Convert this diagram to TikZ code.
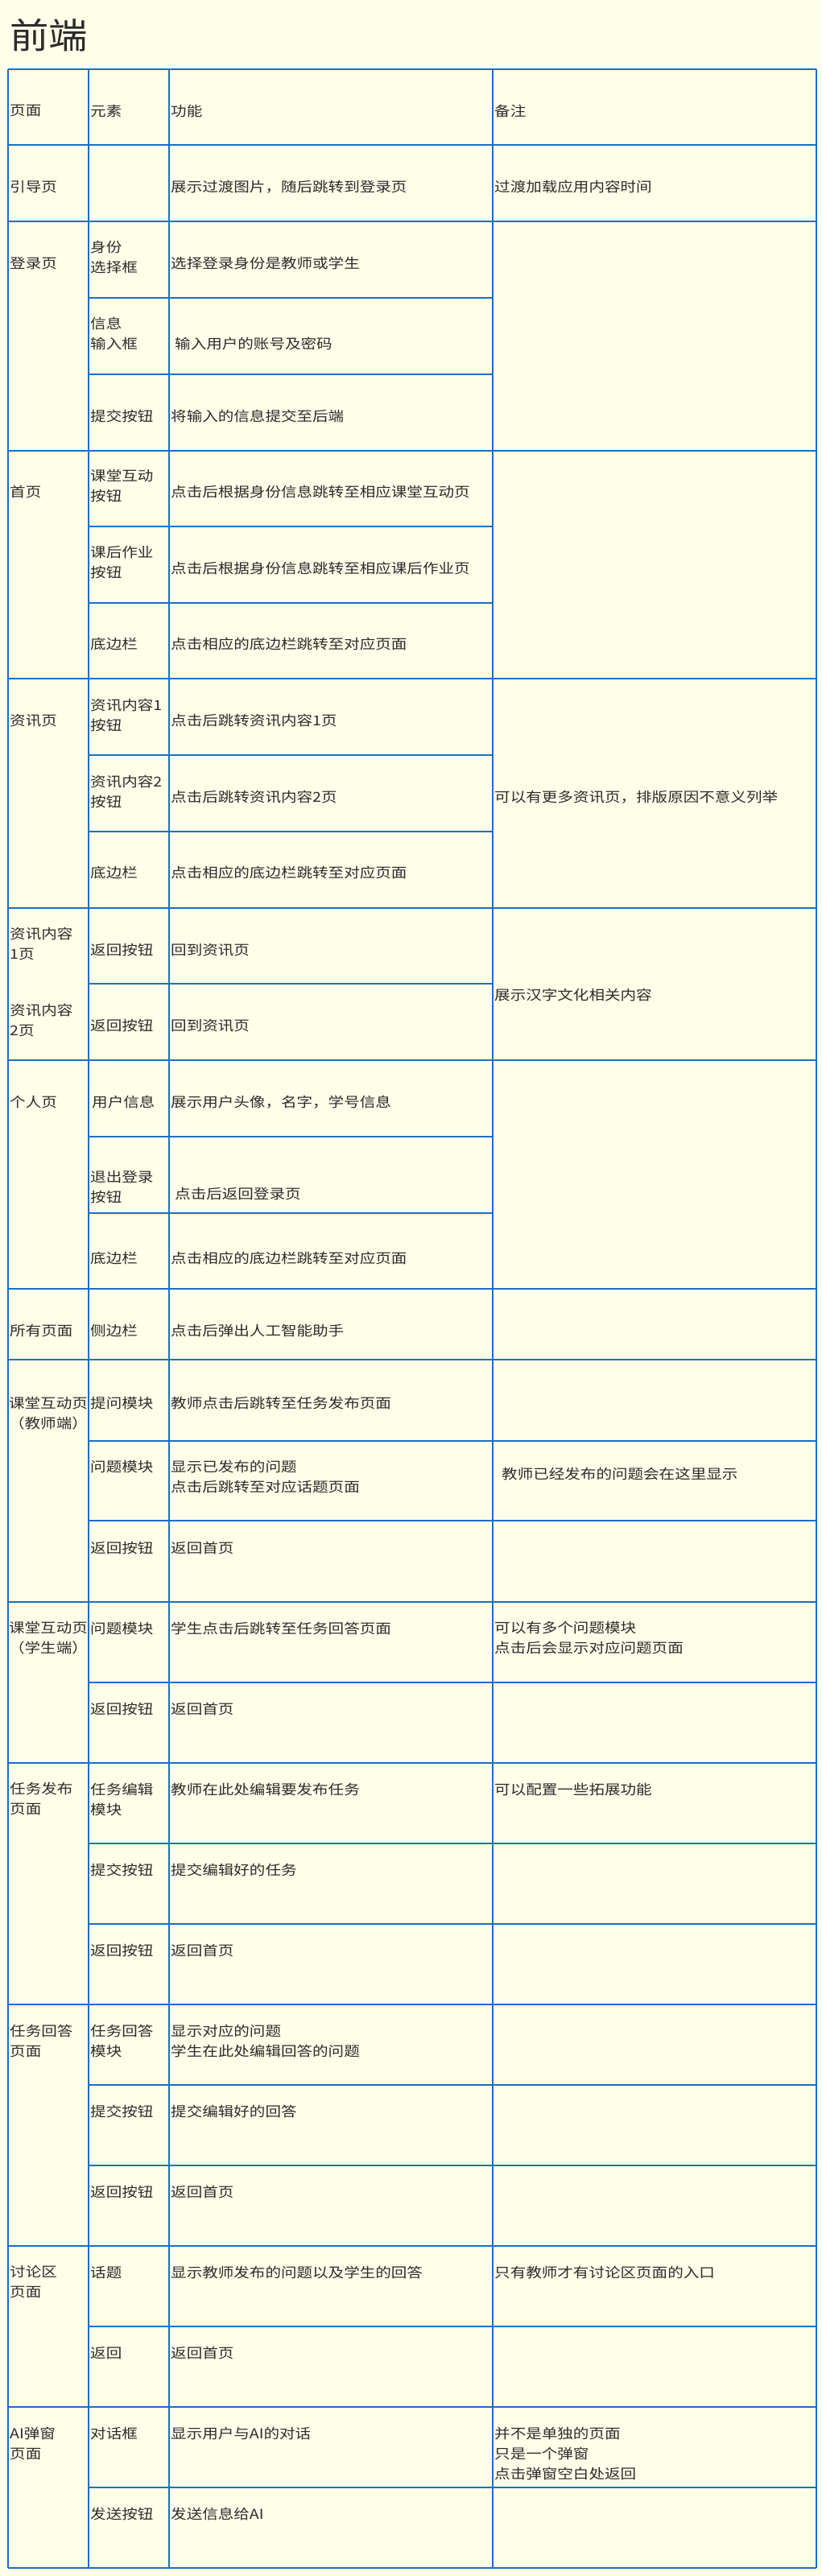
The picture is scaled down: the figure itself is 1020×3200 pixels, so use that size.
\documentclass[tikz,border=0pt]{standalone}
\usepackage{fontspec}
\setmainfont{Noto Sans CJK SC}[FakeStretch=1.15]
\newfontfamily\titlefont{Noto Sans CJK SC}[FakeStretch=1.1]
\definecolor{gridblue}{HTML}{1B6FC6}
\definecolor{paper}{HTML}{FFFEE9}
\definecolor{ink}{HTML}{2B2B2B}

\begin{document}
\begin{tikzpicture}[x=1pt, y=-1pt,
  cell/.style={anchor=west, inner sep=0pt, align=left, text=ink, font=\fontsize{17pt}{25pt}\selectfont},
  grid/.style={draw=gridblue, line width=2pt}]
  \fill[paper] (0,0) rectangle (1020,3200);
  \useasboundingbox (0,0) rectangle (1020,3200);
  \node[anchor=west, inner sep=0pt, text=ink, font=\titlefont\fontsize{44pt}{44pt}\selectfont] at (12,44) (title) {前端};

  % rules across the whole table
  \draw[grid] (10,86) -- (1014,86) (10,180) -- (1014,180) (10,275) -- (1014,275)
    (10,560) -- (1014,560) (10,843) -- (1014,843) (10,1128) -- (1014,1128)
    (10,1317) -- (1014,1317) (10,1601) -- (1014,1601) (10,1689) -- (1014,1689)
    (10,1990) -- (1014,1990) (10,2190) -- (1014,2190) (10,2490) -- (1014,2490)
    (10,2790) -- (1014,2790) (10,2990) -- (1014,2990) (10,3190) -- (1014,3190);
  % rules inside merged pages, remarks merged
  \draw[grid] (110,370) -- (612,370) (110,465) -- (612,465) (110,654) -- (612,654)
    (110,749) -- (612,749) (110,938) -- (612,938) (110,1033) -- (612,1033)
    (110,1222) -- (612,1222) (110,1412) -- (612,1412) (110,1507) -- (612,1507);
  % rules inside merged pages, remarks split
  \draw[grid] (110,1790) -- (1014,1790) (110,1889) -- (1014,1889) (110,2090) -- (1014,2090)
    (110,2290) -- (1014,2290) (110,2390) -- (1014,2390) (110,2590) -- (1014,2590)
    (110,2690) -- (1014,2690) (110,2890) -- (1014,2890) (110,3090) -- (1014,3090);
  % columns
  \draw[grid] (10,86) -- (10,3190) (110,86) -- (110,3190) (210,86) -- (210,3190)
    (612,86) -- (612,3190) (1014,86) -- (1014,3190);

  \node[cell] at (12,138) (h1) {页面};
  \node[cell] at (112,138) (h2) {元素};
  \node[cell] at (212,138) (h3) {功能};
  \node[cell] at (614,138) (h4) {备注};

  \node[cell] at (12,232) (p1) {引导页};
  \node[cell] at (212,232) (f1) {展示过渡图片，随后跳转到登录页};
  \node[cell] at (614,232) (r1) {过渡加载应用内容时间};

  \node[cell] at (12,327) (p2) {登录页};
  \node[cell] at (112,320) (e2a) {身份\\选择框};
  \node[cell] at (212,327) (f2a) {选择登录身份是教师或学生};
  \node[cell] at (112,414) (e2b) {信息\\输入框};
  \node[cell] at (217,427) (f2b) {输入用户的账号及密码};
  \node[cell] at (112,517) (e2c) {提交按钮};
  \node[cell] at (212,517) (f2c) {将输入的信息提交至后端};

  \node[cell] at (12,611) (p3) {首页};
  \node[cell] at (112,604) (e3a) {课堂互动\\按钮};
  \node[cell] at (212,611) (f3a) {点击后根据身份信息跳转至相应课堂互动页};
  \node[cell] at (112,699) (e3b) {课后作业\\按钮};
  \node[cell] at (212,706) (f3b) {点击后根据身份信息跳转至相应课后作业页};
  \node[cell] at (112,800) (e3c) {底边栏};
  \node[cell] at (212,800) (f3c) {点击相应的底边栏跳转至对应页面};

  \node[cell] at (12,895) (p4) {资讯页};
  \node[cell] at (112,888) (e4a) {资讯内容1\\按钮};
  \node[cell] at (212,895) (f4a) {点击后跳转资讯内容1页};
  \node[cell] at (112,983) (e4b) {资讯内容2\\按钮};
  \node[cell] at (212,990) (f4b) {点击后跳转资讯内容2页};
  \node[cell] at (112,1084) (e4c) {底边栏};
  \node[cell] at (212,1084) (f4c) {点击相应的底边栏跳转至对应页面};
  \node[cell] at (614,990) (r4) {可以有更多资讯页，排版原因不意义列举};

  \node[cell] at (12,1172) (p5a) {资讯内容\\1页};
  \node[cell] at (12,1267) (p5b) {资讯内容\\2页};
  \node[cell] at (112,1180) (e5a) {返回按钮};
  \node[cell] at (212,1180) (f5a) {回到资讯页};
  \node[cell] at (112,1274) (e5b) {返回按钮};
  \node[cell] at (212,1274) (f5b) {回到资讯页};
  \node[cell] at (614,1236) (r5) {展示汉字文化相关内容};

  \node[cell] at (12,1369) (p6) {个人页};
  \node[cell] at (114,1369) (e6a) {用户信息};
  \node[cell] at (212,1369) (f6a) {展示用户头像，名字，学号信息};
  \node[cell] at (112,1475) (e6b) {退出登录\\按钮};
  \node[cell] at (217,1483) (f6b) {点击后返回登录页};
  \node[cell] at (112,1563) (e6c) {底边栏};
  \node[cell] at (212,1563) (f6c) {点击相应的底边栏跳转至对应页面};

  \node[cell] at (12,1653) (p7) {所有页面};
  \node[cell] at (112,1653) (e7) {侧边栏};
  \node[cell] at (212,1653) (f7) {点击后弹出人工智能助手};

  \node[cell, anchor=center, align=center] at (60,1756) (p8) {课堂互动页\\（教师端）};
  \node[cell] at (112,1743) (e8a) {提问模块};
  \node[cell] at (212,1743) (f8a) {教师点击后跳转至任务发布页面};
  \node[cell] at (112,1822) (e8b) {问题模块};
  \node[cell] at (212,1835) (f8b) {显示已发布的问题\\点击后跳转至对应话题页面};
  \node[cell] at (623,1831) (r8b) {教师已经发布的问题会在这里显示};
  \node[cell] at (112,1923) (e8c) {返回按钮};
  \node[cell] at (212,1923) (f8c) {返回首页};

  \node[cell, anchor=center, align=center] at (60,2035) (p9) {课堂互动页\\（学生端）};
  \node[cell] at (112,2023) (e9a) {问题模块};
  \node[cell] at (212,2023) (f9a) {学生点击后跳转至任务回答页面};
  \node[cell] at (614,2035) (r9a) {可以有多个问题模块\\点击后会显示对应问题页面};
  \node[cell] at (112,2123) (e9b) {返回按钮};
  \node[cell] at (212,2123) (f9b) {返回首页};

  \node[cell] at (12,2235) (p10) {任务发布\\页面};
  \node[cell] at (112,2235) (e10a) {任务编辑\\模块};
  \node[cell] at (212,2223) (f10a) {教师在此处编辑要发布任务};
  \node[cell] at (614,2223) (r10a) {可以配置一些拓展功能};
  \node[cell] at (112,2323) (e10b) {提交按钮};
  \node[cell] at (212,2323) (f10b) {提交编辑好的任务};
  \node[cell] at (112,2423) (e10c) {返回按钮};
  \node[cell] at (212,2423) (f10c) {返回首页};

  \node[cell] at (12,2535) (p11) {任务回答\\页面};
  \node[cell] at (112,2535) (e11a) {任务回答\\模块};
  \node[cell] at (212,2535) (f11a) {显示对应的问题\\学生在此处编辑回答的问题};
  \node[cell] at (112,2623) (e11b) {提交按钮};
  \node[cell] at (212,2623) (f11b) {提交编辑好的回答};
  \node[cell] at (112,2723) (e11c) {返回按钮};
  \node[cell] at (212,2723) (f11c) {返回首页};

  \node[cell] at (12,2835) (p12) {讨论区\\页面};
  \node[cell] at (112,2823) (e12a) {话题};
  \node[cell] at (212,2823) (f12a) {显示教师发布的问题以及学生的回答};
  \node[cell] at (614,2823) (r12a) {只有教师才有讨论区页面的入口};
  \node[cell] at (112,2923) (e12b) {返回};
  \node[cell] at (212,2923) (f12b) {返回首页};

  \node[cell] at (12,3035) (p13) {AI弹窗\\页面};
  \node[cell] at (112,3023) (e13a) {对话框};
  \node[cell] at (212,3023) (f13a) {显示用户与AI的对话};
  \node[cell] at (614,3048) (r13a) {并不是单独的页面\\只是一个弹窗\\点击弹窗空白处返回};
  \node[cell] at (112,3123) (e13b) {发送按钮};
  \node[cell] at (212,3123) (f13b) {发送信息给AI};
\end{tikzpicture}
\end{document}
